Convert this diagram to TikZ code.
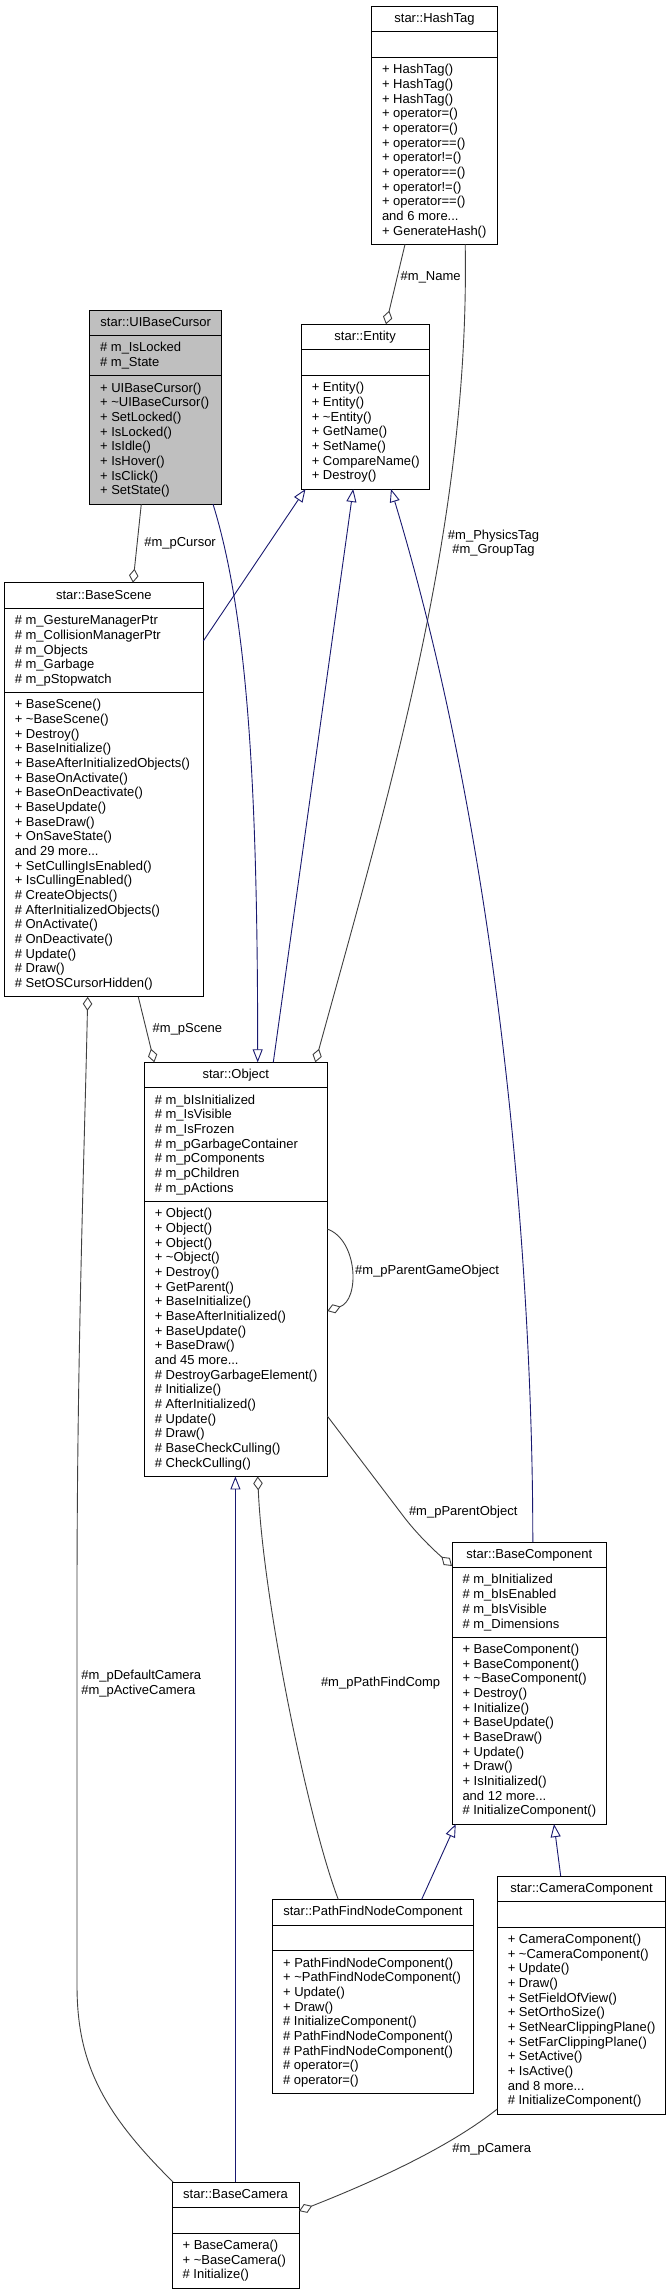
\documentclass[tikz,border=0pt]{standalone}
\usepackage{fontspec}
\setmainfont{Liberation Sans}
\usetikzlibrary{arrows.meta,calc}
\definecolor{edgeblue}{RGB}{25,25,112}
\definecolor{edgegray}{RGB}{64,64,64}
\definecolor{boxgray}{RGB}{191,191,191}
\newcommand\clsfont{\fontsize{13}{14.67}\selectfont}
\newcommand\tld{\textasciitilde}
\newcommand\moredots{...}
\newcommand\clslh{14.67}
\newcommand\clspad{10.9}
\newcommand\clsbl{16.4}
\newcommand\clstx{10.5}
\newcommand\countlist[2]{\def\cltmp{#2}\ifx\cltmp\empty\gdef#1{0}\else\gdef#1{0}\foreach \cli in {#2}{\pgfmathtruncatemacro\clt{#1+1}\global\let#1\clt}\fi}
% #1 name, #2 x, #3 y, #4 width, #5 extra style, #6 title, #7 attrs, #8 methods
\newcommand\umlclass[8]{%
  \countlist\clsnA{#7}\countlist\clsnM{#8}%
  \pgfmathsetmacro\clshA{max(\clsnA,1)*\clslh+\clspad}%
  \pgfmathsetmacro\clshM{max(\clsnM,1)*\clslh+\clspad}%
  \pgfmathsetmacro\clsyA{\clslh+\clspad}%
  \pgfmathsetmacro\clsyM{\clsyA+\clshA}%
  \pgfmathsetmacro\clshT{\clsyM+\clshM}%
  \node[clsbox,#5,minimum width=#4pt,minimum height=\clshT pt,anchor=north west] (#1) at (#2,#3) {};
  \draw[sepline] ($(#1.north west)+(0,\clsyA)$) -- ($(#1.north east)+(0,\clsyA)$);
  \draw[sepline] ($(#1.north west)+(0,\clsyM)$) -- ($(#1.north east)+(0,\clsyM)$);
  \node[clstext,anchor=base] (#1-t) at ($(#1.north)+(0,\clsbl)$) {#6};
  \ifnum\clsnA>0 \foreach \s [count=\i from 0] in {#7} {\node[clstext,anchor=base west] (#1-a\i) at ($(#1.north west)+(\clstx,\clsyA+\clsbl+\i*\clslh)$) {\s};}\fi
  \ifnum\clsnM>0 \foreach \s [count=\i from 0] in {#8} {\node[clstext,anchor=base west] (#1-m\i) at ($(#1.north west)+(\clstx,\clsyM+\clsbl+\i*\clslh)$) {\s};}\fi
}
\tikzset{
  clsbox/.style={draw=black,line width=1pt,fill=white,inner sep=0pt,outer sep=0pt},
  grayed/.style={fill=boxgray},
  sepline/.style={draw=black,line width=1pt},
  clstext/.style={inner sep=0pt,outer sep=0pt,font=\clsfont},
  lbl/.style={inner sep=0pt,outer sep=0pt,font=\clsfont,anchor=base west},
  inh/.style={draw=edgeblue,line width=0.9pt,-{Triangle[open,length=13pt,width=10pt,line width=0.9pt]}},
  agg/.style={draw=edgegray,line width=0.9pt,-{Diamond[open,length=14pt,width=9.5pt,line width=0.9pt]}},
}
\begin{document}
\begin{tikzpicture}[x=1pt,y=-1pt]
\useasboundingbox (0,0) rectangle (671,2291);
\fill[white] (0,0) rectangle (671,2291);

\umlclass{ht}{371.5}{6.3}{126}{}{star::HashTag}{}{%
+ HashTag(),+ HashTag(),+ HashTag(),+ operator=(),+ operator=(),+ operator==(),+ operator!=(),+ operator==(),+ operator!=(),+ operator==(),and 6 more\moredots,+ GenerateHash()}

\umlclass{en}{301.3}{324.3}{127.7}{}{star::Entity}{}{%
+ Entity(),+ Entity(),+ \tld Entity(),+ GetName(),+ SetName(),+ CompareName(),+ Destroy()}

\umlclass{uc}{89.6}{310}{132.3}{grayed}{star::UIBaseCursor}{\# m\_IsLocked,\# m\_State}{%
+ UIBaseCursor(),+ \tld UIBaseCursor(),+ SetLocked(),+ IsLocked(),+ IsIdle(),+ IsHover(),+ IsClick(),+ SetState()}

\umlclass{bs}{4.3}{582.7}{199}{}{star::BaseScene}{\# m\_GestureManagerPtr,\# m\_CollisionManagerPtr,\# m\_Objects,\# m\_Garbage,\# m\_pStopwatch}{%
+ BaseScene(),+ \tld BaseScene(),+ Destroy(),+ BaseInitialize(),+ BaseAfterInitializedObjects(),+ BaseOnActivate(),+ BaseOnDeactivate(),+ BaseUpdate(),+ BaseDraw(),+ OnSaveState(),and 29 more\moredots,+ SetCullingIsEnabled(),+ IsCullingEnabled(),\# CreateObjects(),\# AfterInitializedObjects(),\# OnActivate(),\# OnDeactivate(),\# Update(),\# Draw(),\# SetOSCursorHidden()}

\umlclass{ob}{144.3}{1062.3}{183}{}{star::Object}{\# m\_bIsInitialized,\# m\_IsVisible,\# m\_IsFrozen,\# m\_pGarbageContainer,\# m\_pComponents,\# m\_pChildren,\# m\_pActions}{%
+ Object(),+ Object(),+ Object(),+ \tld Object(),+ Destroy(),+ GetParent(),+ BaseInitialize(),+ BaseAfterInitialized(),+ BaseUpdate(),+ BaseDraw(),and 45 more\moredots,\# DestroyGarbageElement(),\# Initialize(),\# AfterInitialized(),\# Update(),\# Draw(),\# BaseCheckCulling(),\# CheckCulling()}

\umlclass{bcm}{452}{1542}{154.7}{}{star::BaseComponent}{\# m\_bInitialized,\# m\_bIsEnabled,\# m\_bIsVisible,\# m\_Dimensions}{%
+ BaseComponent(),+ BaseComponent(),+ \tld BaseComponent(),+ Destroy(),+ Initialize(),+ BaseUpdate(),+ BaseDraw(),+ Update(),+ Draw(),+ IsInitialized(),and 12 more\moredots,\# InitializeComponent()}

\umlclass{pf}{272.6}{1899.5}{200.7}{}{star::PathFindNodeComponent}{}{%
+ PathFindNodeComponent(),+ \tld PathFindNodeComponent(),+ Update(),+ Draw(),\# InitializeComponent(),\# PathFindNodeComponent(),\# PathFindNodeComponent(),\# operator=(),\# operator=()}

\umlclass{cc}{497.3}{1876}{168.4}{}{star::CameraComponent}{}{%
+ CameraComponent(),+ \tld CameraComponent(),+ Update(),+ Draw(),+ SetFieldOfView(),+ SetOrthoSize(),+ SetNearClippingPlane(),+ SetFarClippingPlane(),+ SetActive(),+ IsActive(),and 8 more\moredots,\# InitializeComponent()}

\umlclass{bcam}{172.1}{2182}{127}{}{star::BaseCamera}{}{%
+ BaseCamera(),+ \tld BaseCamera(),\# Initialize()}

% ---- connectors ----
% HashTag -> Entity (m_Name)
\draw[agg] ($(ht.south west)+(33.5,0)$) -- ($(en.north west)+(84.7,0)$);
\node[lbl] (l-name) at (400.7,280.7) {\#m\_Name};
% HashTag -> Object (PhysicsTag, GroupTag)
\draw[agg] ($(ht.south west)+(93.7,0)$) .. controls (470,520) and (393,780) .. ($(ob.north west)+(171,0)$);
\node[clstext,anchor=base] (l-phys) at (493.5,539.6) {\#m\_PhysicsTag};
\node[clstext,anchor=base] (l-group) at (493.5,553.4) {\#m\_GroupTag};
% UIBaseCursor -> BaseScene (m_pCursor)
\draw[agg] ($(uc.south west)+(51.7,0)$) -- ($(bs.north west)+(128.7,0)$);
\node[lbl] (l-cursor) at (144.3,546.6) {\#m\_pCursor};
% UIBaseCursor -> Object (inheritance)
\draw[inh] ($(uc.south west)+(123.4,0)$) .. controls (249,620) and (257.5,800) .. ($(ob.north west)+(113.4,0)$);
% BaseScene -> Entity
\draw[inh] ($(bs.north east)+(0,58.3)$) -- ($(en.south west)+(4.2,0)$);
% Object -> Entity
\draw[inh] ($(ob.north west)+(129,0)$) -- ($(en.south west)+(51.9,0)$);
% BaseComponent -> Entity
\draw[inh] ($(bcm.north west)+(80.8,0)$) .. controls (533,1300) and (506,870) .. ($(en.south west)+(89.7,0)$);
% BaseScene -> Object (m_pScene)
\draw[agg] ($(bs.south west)+(134,0)$) -- ($(ob.north west)+(10,0)$);
\node[lbl] (l-scene) at (152.7,1032.7) {\#m\_pScene};
% BaseCamera -> BaseScene (cameras)
\draw[agg] ($(bcam.north west)+(1,0)$) .. controls (100,2110) and (77,2060) .. (77,1985) -- (77,1600) .. controls (77,1350) and (84.5,1150) .. ($(bs.south west)+(83.4,0)$);
\node[lbl] (l-defcam) at (81.3,1679.6) {\#m\_pDefaultCamera};
\node[lbl] (l-actcam) at (81.3,1694) {\#m\_pActiveCamera};
% Object self loop
\draw[agg] ($(ob.north east)+(0,166.7)$) .. controls (358,1240) and (360,1300) .. ($(ob.north east)+(0,248.7)$);
\node[lbl] (l-pgo) at (355.2,1274.6) {\#m\_pParentGameObject};
% Object -> BaseComponent (m_pParentObject)
\draw[agg] ($(ob.north east)+(0,353.7)$) -- (404,1517) .. controls (414,1530) and (428,1545) .. ($(bcm.north west)+(0,24)$);
\node[lbl] (l-po) at (409,1515.2) {\#m\_pParentObject};
% BaseCamera -> Object (inheritance)
\draw[inh] ($(bcam.north west)+(63.3,0)$) -- ($(ob.south west)+(91.1,0)$);
% PathFindNodeComponent -> Object (m_pPathFindComp)
\draw[agg] ($(pf.north west)+(65.7,0)$) .. controls (308,1820) and (263,1600) .. ($(ob.south west)+(113.4,0)$);
\node[lbl] (l-pfc) at (321,1686.2) {\#m\_pPathFindComp};
% PathFindNodeComponent -> BaseComponent
\draw[inh] ($(pf.north west)+(149,0)$) -- ($(bcm.south west)+(3.7,0)$);
% CameraComponent -> BaseComponent
\draw[inh] ($(cc.north west)+(63.4,0)$) -- ($(bcm.south west)+(102,0)$);
% BaseCamera <- CameraComponent (m_pCamera)
\draw[agg] ($(cc.north west)+(0,233)$) .. controls (458,2140) and (398,2172) .. ($(bcam.north east)+(0,29)$);
\node[lbl] (l-cam) at (452.3,2152.6) {\#m\_pCamera};
\end{tikzpicture}
\end{document}
